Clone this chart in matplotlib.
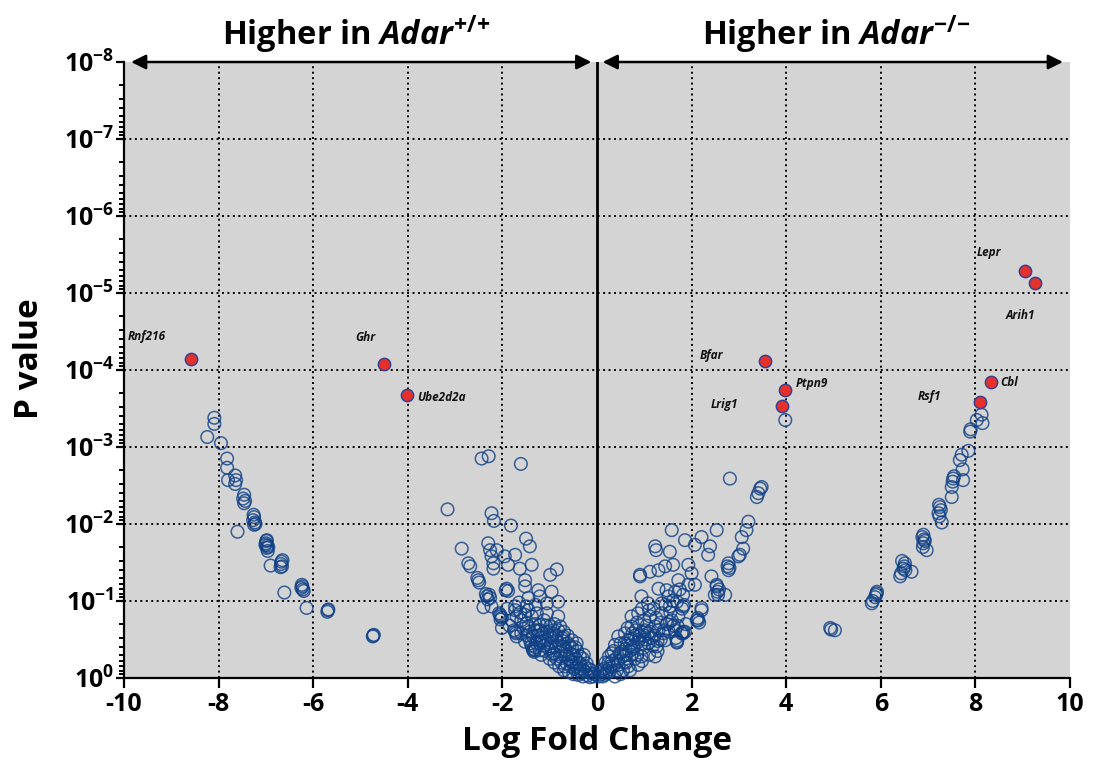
import matplotlib
matplotlib.use("Agg")
import matplotlib.pyplot as plt
from matplotlib.ticker import FixedLocator, FixedFormatter, LogLocator, NullFormatter
from matplotlib.transforms import blended_transform_factory
import numpy as np

FONT = 'Open Sans'
plt.rcParams['font.family'] = [FONT, 'DejaVu Sans']
plt.rcParams['mathtext.fontset'] = 'custom'
plt.rcParams['mathtext.rm'] = FONT + ':bold'
plt.rcParams['mathtext.it'] = FONT + ':bold:italic'
plt.rcParams['mathtext.bf'] = FONT + ':bold'

# ---- data: log fold change and -log10(P value) ----
left_arm_lfc = [-8.09, -8.09, -8.24, -7.95, -7.82, -7.82, -7.80, -7.65, -7.65, -7.46, -7.46,
                -7.25, -7.25, -7.60, -6.98, -6.98, -6.90, -6.67, -6.61, -6.24, -6.14, -5.69,
                -4.73, -7.63, -7.48, -7.44, -7.27, -7.23, -7.26, -7.22, -7.00, -6.97, -6.99,
                -6.95, -6.96, -7.01, -6.68, -6.66, -6.65, -6.69, -6.25, -6.22, -6.23, -6.20,
                -5.70, -5.68, -4.72, -4.74]
left_arm_nlp = [3.38, 3.30, 3.13, 3.05, 2.85, 2.73, 2.57, 2.63, 2.52, 2.38, 2.27,
                2.09, 1.99, 1.90, 1.79, 1.69, 1.46, 1.51, 1.11, 1.21, 0.91, 0.88,
                0.55, 2.57, 2.33, 2.30, 2.05, 2.02, 2.12, 2.00, 1.75, 1.72, 1.78,
                1.70, 1.65, 1.73, 1.48, 1.45, 1.53, 1.44, 1.17, 1.15, 1.19, 1.13,
                0.86, 0.89, 0.56, 0.54]

left_core = [(-3.16, 2.19), (-2.44, 2.85), (-2.29, 2.88), (-1.61, 2.78), (-2.23, 2.14),
             (-2.18, 2.04), (-1.82, 1.98), (-2.86, 1.68), (-2.30, 1.75), (-2.26, 1.66),
             (-2.12, 1.66), (-2.23, 1.58), (-2.19, 1.49), (-2.19, 1.42), (-1.95, 1.58),
             (-1.73, 1.60), (-1.88, 1.47), (-1.63, 1.42), (-1.50, 1.81), (-1.42, 1.71),
             (-1.38, 1.47), (-2.72, 1.49), (-2.68, 1.45), (-2.51, 1.27), (-1.52, 1.27),
             (-0.99, 1.34), (-0.85, 1.41), (-2.33, 1.06), (-2.26, 1.04), (-2.40, 0.92),
             (-2.23, 0.93), (-1.91, 1.16), (-1.88, 1.13), (-1.52, 1.19), (-1.24, 1.14),
             (-0.96, 1.12), (-1.21, 1.06), (-1.45, 1.04), (-1.73, 0.93), (-1.49, 0.93),
             (-1.06, 0.97), (-0.82, 0.99), (-2.05, 0.82), (-2.01, 0.78), (-2.01, 0.65),
             (-1.73, 0.88), (-1.70, 0.80), (-1.52, 0.82), (-1.27, 0.84), (-1.06, 0.84),
             (-0.82, 0.80), (-1.73, 0.60), (-1.70, 0.54), (-1.49, 0.71), (-1.42, 0.60),
             (-1.21, 0.69), (-0.99, 0.67), (-0.78, 0.67), (-1.35, 0.36), (-1.21, 0.45),
             (-1.06, 0.49), (-0.85, 0.49), (-0.71, 0.54), (-0.53, 0.49), (-0.43, 0.45),
             (-0.92, 0.32), (-0.78, 0.28), (-0.57, 0.32), (-0.36, 0.28), (-0.64, 0.19),
             (-0.43, 0.15), (-0.22, 0.19), (-0.29, 0.10), (-0.11, 0.06), (-1.21, 0.36),
             (-0.99, 0.41), (-1.35, 0.54), (-1.14, 0.58), (-1.52, 0.47), (-0.92, 0.58),
             (-0.71, 0.41), (-0.53, 0.39), (-1.45, 0.67), (-1.31, 0.36), (-2.53, 1.30),
             (-2.49, 1.24), (-2.35, 1.09), (-2.31, 1.02), (-2.28, 1.08), (-2.07, 0.84),
             (-2.03, 0.80), (-2.04, 0.76), (-1.93, 1.14), (-1.75, 0.62), (-1.71, 0.58),
             (-1.36, 0.38), (-1.33, 0.34), (-1.30, 0.40), (-1.18, 0.30), (-1.10, 0.35),
             (-1.00, 0.25), (-0.90, 0.20), (-0.80, 0.15), (-0.70, 0.10), (-0.60, 0.08),
             (-0.50, 0.05), (-0.40, 0.04), (-0.30, 0.02), (-0.20, 0.03), (-0.15, 0.01),
             (-0.08, 0.02), (-0.65, 0.30), (-0.55, 0.22), (-0.45, 0.25), (-0.35, 0.12),
             (-0.25, 0.08), (-0.88, 0.40), (-0.75, 0.35), (-1.15, 0.48), (-0.95, 0.52),
             (-0.62, 0.45), (-1.25, 0.55), (-1.60, 0.75), (-1.55, 0.64), (-1.38, 0.80),
             (-1.12, 0.75), (-0.90, 0.70), (-1.65, 0.98), (-1.30, 0.95),
             (-1.25, 0.62), (-1.18, 0.52), (-1.05, 0.60), (-0.98, 0.45), (-0.86, 0.55),
             (-0.80, 0.42), (-0.72, 0.48), (-0.66, 0.36), (-0.58, 0.42), (-0.50, 0.30),
             (-0.42, 0.35), (-0.38, 0.20), (-0.30, 0.25), (-0.26, 0.15), (-0.18, 0.12),
             (-0.12, 0.10), (-0.05, 0.05), (-0.95, 0.30), (-0.85, 0.25), (-0.75, 0.20),
             (-0.68, 0.15), (-0.55, 0.15), (-0.48, 0.12), (-0.40, 0.10), (-0.33, 0.06),
             (-1.42, 0.50), (-1.40, 0.45), (-1.28, 0.45), (-1.60, 0.58), (-1.48, 0.55),
             (-1.02, 0.38), (-0.90, 0.32), (-0.60, 0.25), (-1.20, 0.62), (-1.08, 0.68),
             (-0.92, 0.62), (-0.70, 0.60), (-0.62, 0.55), (-1.30, 0.70), (-1.62, 0.85),
             (-1.80, 0.75), (-1.85, 0.68), (-1.90, 0.90), (-1.45, 0.88),
             (-1.00, 0.55), (-0.82, 0.62), (-0.74, 0.52), (-1.32, 0.62), (-1.12, 0.42),
             (-0.52, 0.20), (-0.46, 0.40), (-0.36, 0.18), (-0.28, 0.30), (-1.38, 0.42)]

right_core = [(2.81, 2.59), (3.41, 2.40), (3.48, 2.48), (3.20, 2.03), (3.16, 1.92),
              (3.06, 1.83), (3.09, 1.68), (2.99, 1.58), (2.78, 1.49), (2.78, 1.40),
              (2.53, 1.92), (2.21, 1.83), (2.39, 1.71), (2.35, 1.60), (2.07, 1.73),
              (1.86, 1.79), (1.58, 1.92), (1.23, 1.71), (1.25, 1.66), (1.54, 1.64),
              (2.42, 1.32), (2.53, 1.19), (2.56, 1.08), (2.71, 1.08), (2.21, 0.91),
              (2.14, 0.75), (1.82, 0.58), (1.69, 0.47), (0.91, 1.32), (1.12, 1.38),
              (1.30, 1.40), (1.44, 1.45), (1.61, 1.47), (1.93, 1.47), (2.00, 1.36),
              (1.72, 1.27), (1.93, 1.21), (2.07, 1.21), (1.30, 1.16), (1.47, 1.14),
              (1.65, 1.12), (1.82, 1.08), (1.08, 0.97), (1.37, 0.97), (1.54, 0.93),
              (1.82, 0.93), (0.87, 0.84), (1.12, 0.80), (1.37, 0.84), (1.54, 0.73),
              (1.72, 0.80), (0.73, 0.67), (1.01, 0.62), (1.23, 0.67), (1.40, 0.58),
              (1.65, 0.62), (0.45, 0.54), (0.66, 0.49), (0.87, 0.47), (1.08, 0.45),
              (1.26, 0.41), (1.23, 0.28), (0.31, 0.32), (0.52, 0.34), (0.73, 0.30),
              (0.94, 0.28), (0.24, 0.19), (0.45, 0.17), (0.66, 0.15), (0.87, 0.17),
              (0.10, 0.10), (0.27, 0.08), (0.03, 0.02), (0.17, 0.04), (0.38, 0.02),
              (0.59, 0.21), (0.77, 0.41), (0.98, 0.39), (1.44, 0.49), (1.51, 1.06),
              (1.69, 0.99), (0.94, 1.06), (0.73, 0.80), (0.59, 0.58), (0.38, 0.43),
              (1.79, 0.58), (1.86, 0.60), (0.91, 1.34), (2.53, 1.21), (2.49, 1.08),
              (2.21, 0.88), (2.11, 0.75), (1.82, 0.60), (1.69, 0.46), (3.45, 2.46),
              (3.38, 2.35), (3.02, 1.60), (2.76, 1.45), (2.80, 1.43), (2.13, 0.78),
              (2.16, 0.72), (2.55, 1.12), (2.58, 1.15), (1.84, 0.95), (1.80, 0.90),
              (1.67, 0.52), (1.70, 0.49), (1.28, 0.35), (1.10, 0.30), (0.95, 0.22),
              (0.80, 0.25), (0.70, 0.10), (0.55, 0.10), (0.50, 0.05), (0.35, 0.15),
              (0.20, 0.06), (0.12, 0.02), (1.00, 0.55), (1.15, 0.52), (0.80, 0.55),
              (0.60, 0.38), (1.35, 0.72), (1.20, 0.90), (1.55, 0.85), (1.00, 0.75),
              (0.08, 0.05), (0.15, 0.12), (0.22, 0.10), (0.28, 0.15), (0.32, 0.22),
              (0.40, 0.25), (0.42, 0.10), (0.48, 0.32), (0.55, 0.28), (0.58, 0.45),
              (0.62, 0.20), (0.68, 0.35), (0.72, 0.50), (0.78, 0.38), (0.82, 0.62),
              (0.85, 0.30), (0.90, 0.55), (0.95, 0.45), (1.02, 0.50), (1.05, 0.68),
              (1.12, 0.60), (1.18, 0.42), (1.22, 0.55), (1.30, 0.62), (1.35, 0.50),
              (1.42, 0.62), (1.48, 0.70), (1.52, 0.60), (1.58, 0.75), (1.62, 0.68),
              (1.25, 0.78), (1.10, 0.88), (0.95, 0.90), (0.85, 0.72), (0.65, 0.65),
              (0.50, 0.45), (0.35, 0.35), (0.25, 0.28), (0.18, 0.20), (0.05, 0.08),
              (1.45, 0.95), (1.60, 1.00), (1.75, 1.15), (1.70, 0.68), (1.88, 0.70),
              (0.70, 0.42), (0.88, 0.50), (0.62, 0.30), (0.45, 0.22), (1.08, 0.58),
              (1.28, 0.48), (0.95, 0.60), (0.75, 0.58)]

right_arm_lfc = [3.98, 8.13, 8.03, 8.15, 7.90, 7.89, 7.85, 7.71, 7.67, 7.73, 7.53, 7.74,
                 7.50, 7.50, 7.25, 7.22, 7.29, 6.90, 6.90, 6.97, 6.51, 6.65, 6.41, 5.91,
                 5.81, 4.93, 5.03, 7.52, 7.55, 7.27, 7.24, 7.23, 6.92, 6.88, 6.93, 6.89,
                 6.50, 6.48, 6.45, 6.52, 6.43, 5.90, 5.92, 5.88, 5.83, 4.95]
right_arm_nlp = [3.35, 3.42, 3.35, 3.31, 3.23, 3.20, 2.95, 2.90, 2.83, 2.71, 2.59, 2.57,
                 2.48, 2.35, 2.22, 2.14, 2.02, 1.86, 1.75, 1.66, 1.49, 1.38, 1.32, 1.10,
                 0.97, 0.65, 0.62, 2.55, 2.62, 2.18, 2.10, 2.25, 1.80, 1.83, 1.78, 1.70,
                 1.45, 1.42, 1.52, 1.40, 1.36, 1.08, 1.12, 1.05, 1.00, 0.63]

# highlighted genes
genes = ['Rnf216', 'Ghr', 'Ube2d2a', 'Bfar', 'Ptpn9', 'Lrig1', 'Lepr', 'Arih1', 'Cbl', 'Rsf1']
gene_lfc = [-8.58, -4.50, -4.02, 3.55, 3.98, 3.92, 9.05, 9.27, 8.32, 8.10]
gene_nlp = [4.14, 4.08, 3.68, 4.12, 3.74, 3.53, 5.29, 5.13, 3.84, 3.59]
# label anchor (left edge of text) in data units
label_lfc = [-9.92, -5.12, -3.81, 2.18, 4.21, 2.41, 8.03, 8.65, 8.52, 6.79]
label_nlp = [4.43, 4.42, 3.64, 4.19, 3.83, 3.55, 5.52, 4.71, 3.84, 3.65]

x_ticks = [-10, -8, -6, -4, -2, 0, 2, 4, 6, 8, 10]
y_exponents = [0, 1, 2, 3, 4, 5, 6, 7, 8]

# ---- assemble ----
blue_lfc = np.array(left_arm_lfc + [p[0] for p in left_core] + [p[0] for p in right_core] + right_arm_lfc)
blue_nlp = np.array(left_arm_nlp + [p[1] for p in left_core] + [p[1] for p in right_core] + right_arm_nlp)
blue_p = 10.0 ** (-blue_nlp)
gene_p = 10.0 ** (-np.array(gene_nlp))

fig = plt.figure(figsize=(10.95, 7.63), dpi=100)
ax = fig.add_axes([124 / 1095, 1 - 678 / 763, (1070 - 124) / 1095, (678 - 62) / 763])
ax.set_facecolor('#d4d4d4')

ax.set_yscale('log')
ax.set_ylim(1, 1e-8)
ax.set_xlim(-10, 10)

# grid
for gx in [-8, -6, -4, -2, 2, 4, 6, 8]:
    ax.axvline(gx, color='black', lw=1.4, linestyle=(0, (1, 1.8)), zorder=1)
for e in range(1, 8):
    ax.axhline(10.0 ** (-e), color='black', lw=1.4, linestyle=(0, (1, 1.8)), zorder=1)
ax.axvline(0, color='black', lw=2.0, zorder=2)

ax.scatter(blue_lfc, blue_p, s=82, facecolors='none', edgecolors='#0f4086',
           linewidths=1.1, alpha=0.8, zorder=3, clip_on=False)
ax.scatter(gene_lfc, gene_p, s=78, facecolors='#e8302a', edgecolors='#3b3f8f',
           linewidths=1.1, zorder=4)

for g, lx, ly in zip(genes, label_lfc, label_nlp):
    ax.text(lx, 10.0 ** (-ly), g, fontsize=8.5, fontstyle='italic', fontweight='bold',
            ha='left', va='center', color='#111111', zorder=5)

# spines and ticks
for side in ['top', 'right']:
    ax.spines[side].set_visible(False)
for side in ['left', 'bottom']:
    ax.spines[side].set_linewidth(1.6)
    ax.spines[side].set_color('black')

ax.xaxis.set_major_locator(FixedLocator(x_ticks))
ax.set_xticklabels([str(t) for t in x_ticks])
ax.yaxis.set_major_locator(FixedLocator([10.0 ** (-e) for e in y_exponents]))
ax.yaxis.set_major_formatter(FixedFormatter([r'$10^{{-}%d}$' % e if e else r'$10^{0}$' for e in y_exponents]))
ax.yaxis.set_minor_locator(LogLocator(base=10, subs=np.arange(2, 10), numticks=20))
ax.yaxis.set_minor_formatter(NullFormatter())
ax.tick_params(axis='x', which='major', direction='out', length=7, width=1.6, labelsize=18, pad=3)
ax.tick_params(axis='y', which='major', direction='out', length=6, width=1.6, labelsize=18, pad=1)
ax.tick_params(axis='y', which='minor', direction='out', length=3.5, width=1.4)
for lbl in ax.get_xticklabels():
    lbl.set_fontweight('bold')

# arrows along the top edge
for x0, x1 in [(-9.85, -0.12), (0.12, 9.85)]:
    ax.annotate('', xy=(x1, 1e-8), xytext=(x0, 1e-8),
                arrowprops=dict(arrowstyle='<|-|>', color='black', lw=1.8,
                                mutation_scale=22, shrinkA=0, shrinkB=0),
                annotation_clip=False)

tr = blended_transform_factory(ax.transData, ax.transAxes)
ax.text(-5.1, 1.027, r'Higher in $\mathit{Adar}^{{+}/{+}}$', transform=tr, ha='center',
        va='baseline', fontsize=23.5, fontweight='bold')
ax.text(5.05, 1.027, r'Higher in $\mathit{Adar}^{{-}/{-}}$', transform=tr, ha='center',
        va='baseline', fontsize=23.5, fontweight='bold')

fig.text(597 / 1095, 1 - 742 / 763, 'Log Fold Change', ha='center', va='center',
         fontsize=24, fontweight='bold')
fig.text(30 / 1095, 1 - 359 / 763, 'P value', ha='center', va='center', rotation=90,
         fontsize=24, fontweight='bold')

fig.savefig('out.png', dpi=100)
